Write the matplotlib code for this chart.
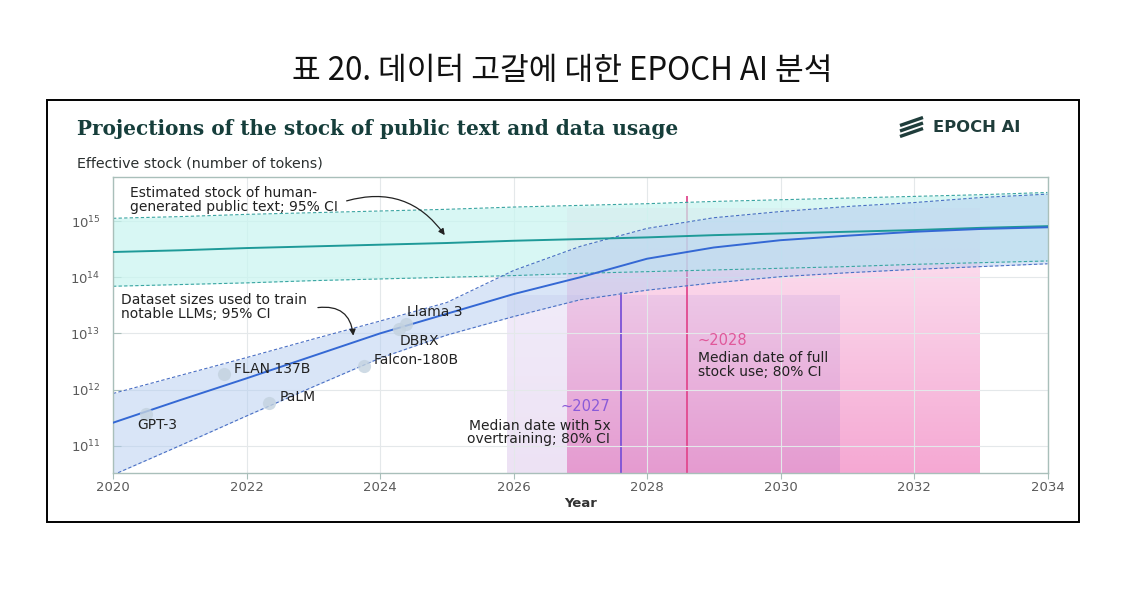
import matplotlib
matplotlib.use('Agg')
import matplotlib.pyplot as plt
import numpy as np
from matplotlib.colors import LinearSegmentedColormap
from matplotlib.lines import Line2D
from matplotlib.patches import Rectangle
from matplotlib.transforms import blended_transform_factory

plt.rcParams['font.family'] = ['DejaVu Sans']
plt.rcParams['mathtext.fontset'] = 'dejavusans'

# ---------------- data (log10 of tokens) ----------------
years = [2020, 2021, 2022, 2023, 2024, 2025, 2026, 2027, 2028, 2029, 2030, 2031, 2032, 2033, 2034]
stock_median_log = [14.45, 14.48, 14.52, 14.55, 14.58, 14.61, 14.65, 14.68, 14.71, 14.75, 14.78, 14.81, 14.84, 14.88, 14.91]
stock_low_log = [13.84, 13.87, 13.90, 13.94, 13.97, 14.00, 14.03, 14.07, 14.10, 14.13, 14.16, 14.19, 14.23, 14.26, 14.29]
stock_high_log = [15.05, 15.08, 15.12, 15.15, 15.18, 15.21, 15.25, 15.28, 15.31, 15.35, 15.38, 15.41, 15.44, 15.47, 15.51]
data_median_log = [11.41, 11.81, 12.20, 12.60, 13.00, 13.35, 13.70, 14.00, 14.33, 14.53, 14.66, 14.74, 14.81, 14.86, 14.89]
data_low_log = [10.48, 11.00, 11.53, 12.05, 12.56, 12.97, 13.30, 13.60, 13.77, 13.90, 14.01, 14.08, 14.14, 14.19, 14.24]
data_high_log = [11.93, 12.25, 12.57, 12.90, 13.22, 13.55, 14.12, 14.55, 14.87, 15.06, 15.17, 15.26, 15.33, 15.42, 15.48]

models = ['GPT-3', 'FLAN 137B', 'PaLM', 'Falcon-180B', 'DBRX', 'Llama 3']
model_dates = [2020.49, 2021.66, 2022.34, 2023.76, 2024.29, 2024.39]
model_tokens_log = [11.57, 12.27, 11.77, 12.42, 13.07, 13.17]

overtrain_ci = (2025.9, 2030.9)
overtrain_median = 2027.61
fullstock_ci = (2026.8, 2033.0)
fullstock_median = 2028.6

x_ticks = [2020, 2022, 2024, 2026, 2028, 2030, 2032, 2034]
y_ticks_exp = [11, 12, 13, 14, 15]

def tok(v):
    return 10 ** np.asarray(v, dtype=float)

# ---------------- figure ----------------
W, H = 1135, 593
fig = plt.figure(figsize=(W / 100, H / 100), dpi=100)

def fx(px):
    return px / W

def fy(py):
    return 1 - py / H

# caption
fig.text(fx(562), fy(71), '표 20. 데이터 고갈에 대한 EPOCH AI 분석', ha='center', va='center',
         fontsize=22.5, family=['Noto Sans CJK KR', 'DejaVu Sans'], color='#111111')

# frame
fig.patches.append(Rectangle((fx(47), fy(522)), fx(1079) - fx(47), fy(100) - fy(522),
                             transform=fig.transFigure, fill=False, edgecolor='black', lw=1.4))

# title
fig.text(fx(77), fy(129), 'Projections of the stock of public text and data usage', ha='left', va='center',
         fontsize=14.4, fontweight='bold', family=['DejaVu Serif'], color='#163e3b')
fig.text(fx(77), fy(163), 'Effective stock (number of tokens)', ha='left', va='center',
         fontsize=10.3, color='#2a2f2f')

# logo
for off in (-5.5, 0, 5.5):
    fig.lines.append(Line2D([fx(900), fx(923)], [fy(131 + off), fy(123 + off)], transform=fig.transFigure,
                            color='#1f3d3b', lw=2.4, solid_capstyle='butt'))
fig.text(fx(933), fy(127), 'EPOCH AI', ha='left', va='center', fontsize=11.8, fontweight='bold', color='#1f3d3b')

ax = fig.add_axes([fx(113), fy(472.7), fx(1047.5) - fx(113), fy(177.3) - fy(472.7)])
ax.set_yscale('log')
YLO_LOG, YHI_LOG = 10.52, 15.78
ylo, yhi = 10 ** YLO_LOG, 10 ** YHI_LOG

def frac(v_log):
    return (v_log - YLO_LOG) / (YHI_LOG - YLO_LOG)

blend = blended_transform_factory(ax.transData, ax.transAxes)

def grad_rect(x0, x1, top_log, ctop, cbot, alpha, z):
    cmap = LinearSegmentedColormap.from_list('g', [cbot, ctop])
    arr = np.linspace(0, 1, 256).reshape(-1, 1)
    ax.imshow(arr, cmap=cmap, extent=[x0, x1, 0, frac(top_log)], origin='lower', aspect='auto',
              alpha=alpha, zorder=z, interpolation='bilinear', transform=blend)

grad_rect(fullstock_ci[0], fullstock_ci[1], 15.255, '#fde8f3', '#f5a8d3', 1.0, 0.2)
grad_rect(overtrain_ci[0], overtrain_ci[1], 13.7, '#b496e0', '#a066c8', 0.19, 0.3)

ax.vlines(overtrain_median, ylo, 10 ** 13.73, color='#7b52d6', lw=1.3, zorder=0.4)
ax.vlines(fullstock_median, ylo, 10 ** 15.45, color='#e1498f', lw=1.3, zorder=0.4)

# bands
ax.fill_between(years, tok(stock_low_log), tok(stock_high_log), color='#c8f5f0', alpha=0.7, lw=0, zorder=1)
ax.fill_between(years, tok(data_low_log), tok(data_high_log), color='#b4cdf0', alpha=0.5, lw=0, zorder=1.1)

dash = (0, (3, 2))
ax.plot(years, tok(stock_low_log), color='#3aa5a2', lw=0.8, ls=dash, zorder=2)
ax.plot(years, tok(stock_high_log), color='#3aa5a2', lw=0.8, ls=dash, zorder=2)
ax.plot(years, tok(data_low_log), color='#4a6fc4', lw=0.8, ls=dash, zorder=2)
ax.plot(years, tok(data_high_log), color='#4a6fc4', lw=0.8, ls=dash, zorder=2)
ax.plot(years, tok(stock_median_log), color='#1e9a98', lw=1.4, zorder=3)
ax.plot(years, tok(data_median_log), color='#3468d4', lw=1.4, zorder=3.1)

ax.scatter(model_dates, tok(model_tokens_log), s=90, color='#c3d2df', alpha=0.8, lw=0, zorder=4)

ax.set_xlim(2020, 2034)
ax.set_ylim(ylo, yhi)

# axes styling
for s in ax.spines.values():
    s.set_color('#a9bfba')
    s.set_linewidth(1.0)
ax.grid(True, which='major', color='#e4e8ea', lw=0.8)
ax.set_axisbelow(True)
ax.set_xticks(x_ticks)
ax.set_xticklabels([str(t) for t in x_ticks])
ax.set_yticks([10.0 ** e for e in y_ticks_exp])
ax.set_yticklabels([r'$\mathregular{10^{%d}}$' % e for e in y_ticks_exp])
ax.minorticks_off()
ax.tick_params(axis='x', direction='out', length=4, color='#a9bfba', labelsize=9.5, labelcolor='#5a5a5a', pad=2)
ax.tick_params(axis='y', direction='in', length=6, color='#a9bfba', labelsize=9.5, labelcolor='#5a5a5a', pad=9)
ax.set_xlabel('Year', fontsize=9.5, fontweight='bold', color='#333333', labelpad=2)

tcol = '#222222'
fs = 10
ls = 0.95
# model labels
label_pos = [(2020.36, 11.375), (2021.81, 12.375), (2022.49, 11.875), (2023.91, 12.52), (2024.30, 12.86), (2024.40, 13.39)]
for name, (lx, ly) in zip(models, label_pos):
    ax.text(lx, 10 ** ly, name, fontsize=fs, color=tcol, ha='left', va='center', zorder=5)

ax.text(2020.25, 10 ** 15.375, 'Estimated stock of human-\ngenerated public text; 95% CI', fontsize=fs,
        color=tcol, ha='left', va='center', linespacing=ls, zorder=5)
ax.annotate('', xy=(2024.97, 10 ** 14.75), xytext=(2023.5, 10 ** 15.36),
            arrowprops=dict(arrowstyle='-|>', color='#222222', lw=0.9, mutation_scale=9,
                            connectionstyle='arc3,rad=-0.35', shrinkA=0, shrinkB=0), zorder=5)
ax.text(2020.12, 10 ** 13.47, 'Dataset sizes used to train\nnotable LLMs; 95% CI', fontsize=fs,
        color=tcol, ha='left', va='center', linespacing=ls, zorder=5)
ax.annotate('', xy=(2023.6, 10 ** 12.96), xytext=(2023.07, 10 ** 13.46),
            arrowprops=dict(arrowstyle='-|>', color='#222222', lw=0.9, mutation_scale=9,
                            connectionstyle='arc3,rad=-0.5', shrinkA=0, shrinkB=0), zorder=5)

ax.text(2027.45, 10 ** 11.70, '~2027', fontsize=10.5, color='#8a5ad8', ha='right', va='center', zorder=5)
ax.text(2027.45, 10 ** 11.24, 'Median date with 5x\novertraining; 80% CI', fontsize=fs, color=tcol,
        ha='right', va='center', linespacing=ls, zorder=5)
ax.text(2028.76, 10 ** 12.875, '~2028', fontsize=10.5, color='#e0589a', ha='left', va='center', zorder=5)
ax.text(2028.76, 10 ** 12.44, 'Median date of full\nstock use; 80% CI', fontsize=fs, color=tcol,
        ha='left', va='center', linespacing=ls, zorder=5)

fig.savefig('out.png', dpi=100)
